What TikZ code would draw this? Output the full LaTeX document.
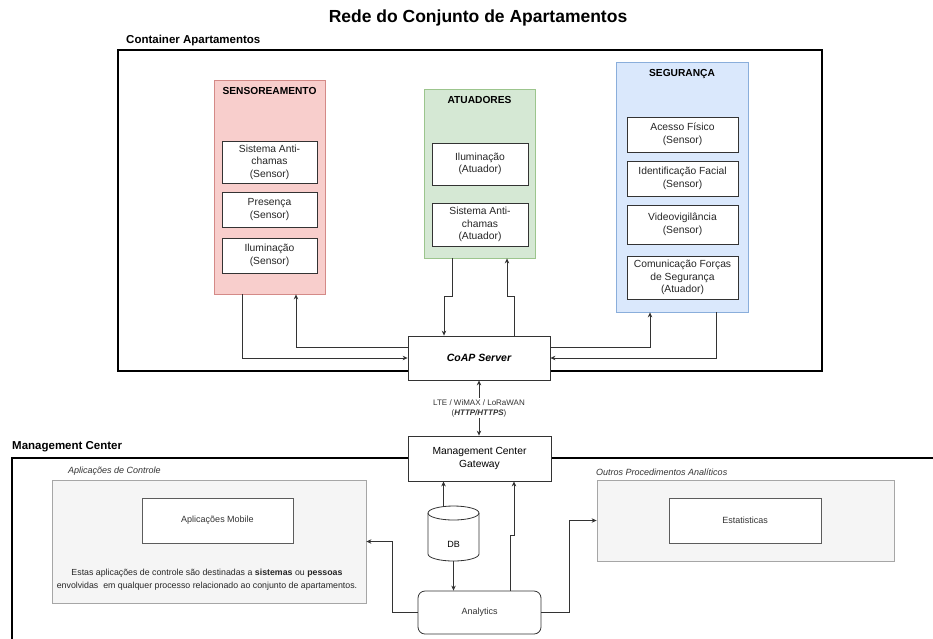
\documentclass[tikz,border=0pt]{standalone}
\usepackage{fontspec}
\setmainfont{Liberation Sans}
\usetikzlibrary{arrows.meta}

\definecolor{sensfill}{HTML}{F8CECC}
\definecolor{sensline}{HTML}{D48A87}
\definecolor{atufill}{HTML}{D5E8D4}
\definecolor{atuline}{HTML}{9CC58D}
\definecolor{segfill}{HTML}{DAE8FC}
\definecolor{segline}{HTML}{8AAEDB}
\definecolor{grayfill}{HTML}{F5F5F5}
\definecolor{grayline}{HTML}{A6A6A6}
\definecolor{itemline}{HTML}{333333}
\definecolor{conn}{HTML}{333333}
\definecolor{txtgray}{HTML}{333333}

\begin{document}
\begin{tikzpicture}[x=1pt,y=-1pt,
  group/.style={draw, line width=0.8pt, inner sep=0pt},
  grouptitle/.style={font=\fontsize{10.2}{12}\selectfont\bfseries, inner sep=0pt},
  item/.style={draw=itemline, fill=white, line width=0.8pt, align=center,
    inner sep=0pt, text=black!85, font=\fontsize{10.3}{12.5}\selectfont},
  frame/.style={draw=black, line width=1.6pt, inner sep=0pt},
  framelabel/.style={font=\fontsize{11.5}{13}\selectfont\bfseries, anchor=west, inner sep=0pt},
  graybox/.style={draw=grayline, fill=grayfill, line width=0.8pt, inner sep=0pt},
  grayitem/.style={draw=itemline!80, fill=white, line width=0.8pt, inner sep=0pt,
    text=txtgray, font=\fontsize{9}{11}\selectfont},
  graylabel/.style={font=\fontsize{9}{11}\selectfont\itshape, text=txtgray, anchor=west, inner sep=0pt},
  plainbox/.style={draw=itemline, fill=white, line width=0.8pt, inner sep=0pt, align=center},
  arr/.style={draw=conn, line width=0.8pt, -{Stealth[length=5pt,width=4.5pt]}},
  arrboth/.style={draw=conn, line width=0.8pt, {Stealth[length=5pt,width=4.5pt]}-{Stealth[length=5pt,width=4.5pt]}}
]
\useasboundingbox (0,0) rectangle (933,638);
\fill[white] (0,0) rectangle (933,638);

% title
\node[font=\fontsize{17.5}{20}\selectfont\bfseries, inner sep=0pt] (title) at (478,18) {Rede do Conjunto de Apartamentos};

% apartment container
\node[frame, minimum width=704pt, minimum height=321pt] (apts) at (470,210.5) {};
\node[framelabel] (aptslbl) at (126,41) {Container Apartamentos};

% sensing group
\node[group, fill=sensfill, draw=sensline, minimum width=111pt, minimum height=214pt] (sens) at (269.5,187) {};
\node[grouptitle] (senst) at (269.5,91) {SENSOREAMENTO};
\node[item, minimum width=95pt, minimum height=42pt] (s1) at (269.5,162) {Sistema Anti-\\chamas\\(Sensor)};
\node[item, minimum width=95pt, minimum height=35pt] (s2) at (269.5,209.5) {Presença\\(Sensor)};
\node[item, minimum width=95pt, minimum height=35pt] (s3) at (269.5,255.5) {Iluminação\\(Sensor)};

% actuators group
\node[group, fill=atufill, draw=atuline, minimum width=111pt, minimum height=169pt] (atu) at (479.5,173.5) {};
\node[grouptitle] (atut) at (479.5,99.5) {ATUADORES};
\node[item, minimum width=96pt, minimum height=42pt] (a1) at (480,164) {Iluminação\\(Atuador)};
\node[item, minimum width=96pt, minimum height=43pt] (a2) at (480,224.5) {Sistema Anti-\\chamas\\(Atuador)};

% security group
\node[group, fill=segfill, draw=segline, minimum width=132pt, minimum height=250pt] (seg) at (682,187) {};
\node[grouptitle] (segt) at (682,73.5) {SEGURANÇA};
\node[item, minimum width=111pt, minimum height=35pt] (g1) at (682.5,134.5) {Acesso Físico\\(Sensor)};
\node[item, minimum width=111pt, minimum height=35pt] (g2) at (682.5,178.5) {Identificação Facial\\(Sensor)};
\node[item, minimum width=111pt, minimum height=39pt] (g3) at (682.5,224.5) {Videovigilância\\(Sensor)};
\node[item, minimum width=111pt, minimum height=43pt] (g4) at (682.5,277.5) {Comunicação Forças\\de Segurança\\(Atuador)};

% CoAP server
\node[plainbox, minimum width=142pt, minimum height=44pt, font=\fontsize{10.5}{12}\selectfont\bfseries\itshape] (coap) at (479,358) {CoAP Server};

% jog points
\coordinate (ja) at (444,296.5);
\coordinate (jb) at (507,296.5);

% group <-> server connectors
\draw[arr] ([xshift=-27.5pt]sens.south) |- (coap.west);
\draw[arr] ([yshift=11pt]coap.west) -| ([xshift=26.5pt]sens.south);
\draw[arr] ([xshift=-27.5pt]atu.south) |- (ja) -| ([xshift=-35pt]coap.north);
\draw[arr] ([xshift=35.5pt]coap.north) |- (jb) -| ([xshift=27.5pt]atu.south);
\draw[arr] ([yshift=11pt]coap.east) -| ([xshift=-32pt]seg.south);
\draw[arr] ([xshift=34pt]seg.south) |- (coap.east);

% management center frame
\draw[draw=black, line width=1.6pt] (12,645) -- (12,458) -- (940,458);
\node[framelabel] (mclbl) at (12,446.5) {Management Center};

% gateway
\node[plainbox, minimum width=143pt, minimum height=45pt, font=\fontsize{10.3}{12.5}\selectfont] (gw) at (479.5,458.5) {Management Center\\Gateway};

% server <-> gateway link
\draw[arrboth] (coap.south) -- node[fill=white, inner sep=1pt, align=center, text=txtgray,
  font=\fontsize{8}{10}\selectfont] (linklbl) {LTE / WiMAX / LoRaWAN\\(\textbf{\textit{HTTP/HTTPS}})} (coap.south |- gw.north);

% control applications
\node[graylabel] (apllbl) at (68,471.5) {Aplicações de Controle};
\node[graybox, minimum width=314pt, minimum height=123pt] (apl) at (209,541.5) {};
\node[grayitem, minimum width=151pt, minimum height=45pt] (mob) at (217.5,520.5) {Aplicações Mobile};
\node[align=center, text=black!85, inner sep=0pt, font=\fontsize{8.8}{13}\selectfont] (apltxt) at (207,579.5)
  {Estas aplicações de controle são destinadas a \textbf{sistemas} ou \textbf{pessoas}\\envolvidas\ \ em qualquer processo relacionado ao conjunto de apartamentos.};

% other analytics
\node[graylabel] (outlbl) at (596,472) {Outros Procedimentos Analíticos};
\node[graybox, minimum width=297pt, minimum height=81pt] (out) at (745.5,520.5) {};
\node[grayitem, minimum width=152pt, minimum height=45pt] (est) at (745,520.5) {Estatisticas};

% database
\node[minimum width=51pt, minimum height=55pt, inner sep=0pt] (db) at (453.5,533.5) {};
\draw[draw=itemline, fill=white, line width=0.8pt]
  (428,513) -- (428,554) arc[start angle=180, end angle=360, x radius=25.5pt, y radius=7pt]
  -- (479,513) arc[start angle=0, end angle=180, x radius=25.5pt, y radius=7pt] -- cycle;
\draw[draw=itemline, line width=0.8pt] (428,513) arc[start angle=180, end angle=360, x radius=25.5pt, y radius=7pt];
\node[font=\fontsize{9}{11}\selectfont, inner sep=0pt] (dbt) at (453.5,544) {DB};

% analytics
\node[plainbox, rounded corners=7pt, minimum width=123pt, minimum height=43pt, font=\fontsize{9}{11}\selectfont, text=txtgray] (ana) at (479.5,612.5) {Analytics};

\coordinate (jc) at (514,535);
\coordinate (jd) at (392,541.5);
\coordinate (je) at (569,520.5);

\draw[arr] ([xshift=-10pt]db.north) -- ([xshift=-10pt]db.north |- gw.south);
\draw[arr] (db.south) -- (db.south |- ana.north);
\draw[arr] ([xshift=30.5pt]ana.north) |- (jc) -| ([xshift=34.5pt]gw.south);
\draw[arr] (ana.west) -| (jd) -- (apl.east);
\draw[arr] (ana.east) -| (je) -- (out.west);
\end{tikzpicture}
\end{document}
